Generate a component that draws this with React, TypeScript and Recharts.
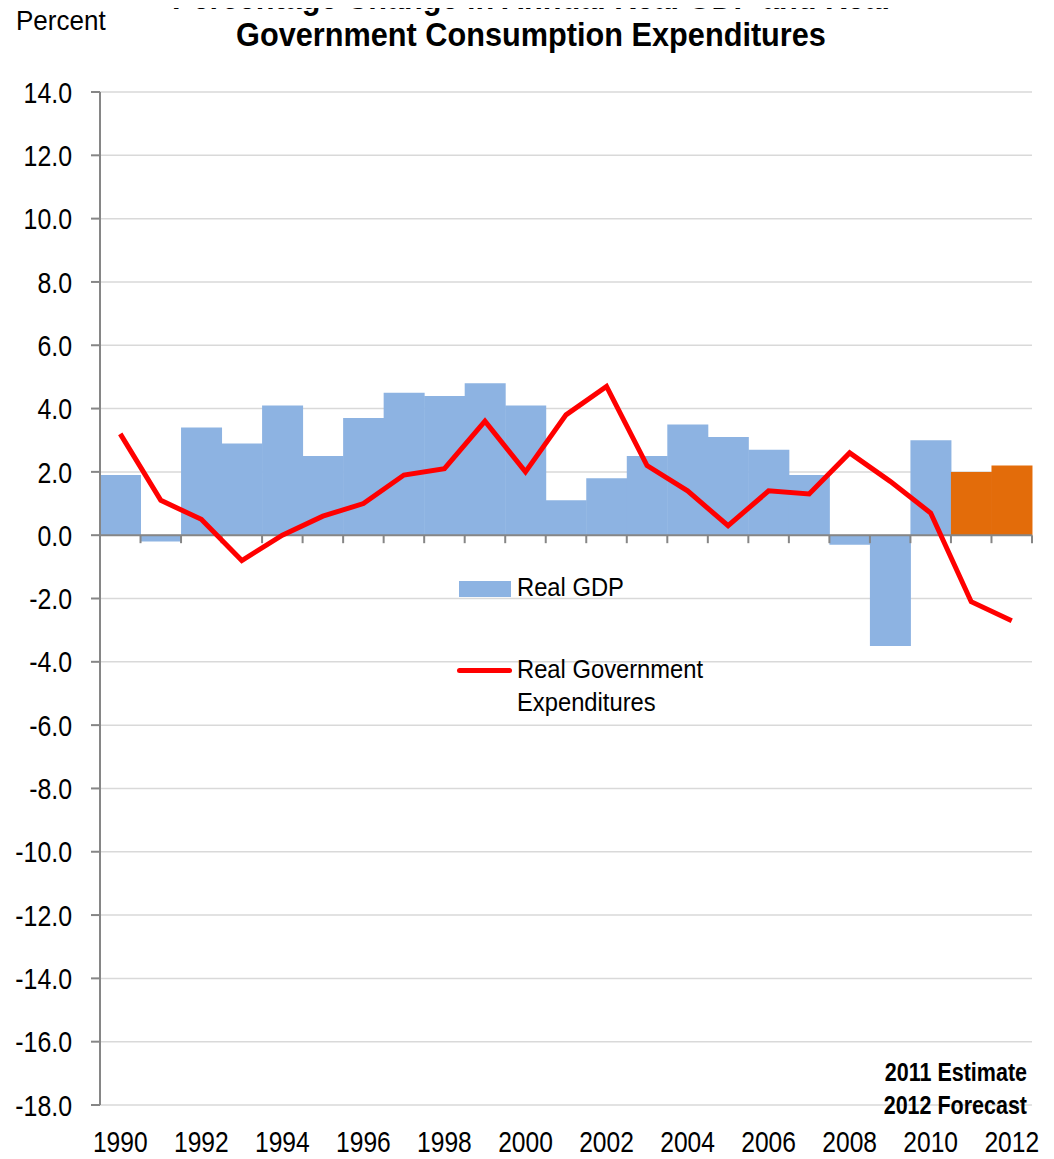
import React from "react";
import { ComposedChart, Bar, Line, XAxis, YAxis, CartesianGrid, ReferenceLine, Legend, Cell } from "recharts";

const years = [
  "1990", "1991", "1992", "1993", "1994", "1995", "1996", "1997", "1998", "1999", "2000", "2001",
  "2002", "2003", "2004", "2005", "2006", "2007", "2008", "2009", "2010", "2011", "2012",
];
const realGdp = [1.9, -0.2, 3.4, 2.9, 4.1, 2.5, 3.7, 4.5, 4.4, 4.8, 4.1, 1.1, 1.8, 2.5, 3.5, 3.1, 2.7, 1.9, -0.3, -3.5, 3.0, 2.0, 2.2];
const realGov = [3.2, 1.1, 0.5, -0.8, 0.0, 0.6, 1.0, 1.9, 2.1, 3.6, 2.0, 3.8, 4.7, 2.2, 1.4, 0.3, 1.4, 1.3, 2.6, 1.7, 0.7, -2.1, -2.7];
const yTicks = [-18, -16, -14, -12, -10, -8, -6, -4, -2, 0, 2, 4, 6, 8, 10, 12, 14];
const estimateFrom = "2011";

const data = years.map((year, i) => ({ year, gdp: realGdp[i], gov: realGov[i] }));

// no Arial Narrow here, so squeeze Liberation Sans horizontally
const FONT = '"Liberation Sans", Arial, sans-serif';
const BLUE = "#8db3e2";
const ORANGE = "#e36c0a";
const RED = "#ff0000";
const AXIS = "#868686";

function NarrowText(props: {
  x: number;
  y: number;
  size: number;
  sx: number;
  anchor?: "start" | "middle" | "end";
  bold?: boolean;
  dy?: string;
  children: React.ReactNode;
}) {
  const { x, y, size, sx, anchor = "start", bold, dy, children } = props;
  return (
    <text
      transform={`translate(${x},${y}) scale(${sx},1)`}
      textAnchor={anchor}
      dy={dy}
      fontFamily={FONT}
      fontWeight={bold ? "bold" : "normal"}
      fontSize={size}
      fill="#000"
    >
      {children}
    </text>
  );
}

function YTick(props: { x?: number; y?: number; payload?: { value: number } }) {
  const { x = 0, y = 0, payload } = props;
  return (
    <NarrowText x={x} y={y} size={30} sx={0.83} anchor="end" dy="0.355em">
      {payload ? payload.value.toFixed(1) : ""}
    </NarrowText>
  );
}

function XTick(props: { x?: number; y?: number; payload?: { value: string } }) {
  const { x = 0, y = 0, payload } = props;
  return (
    <NarrowText x={x} y={y} size={30} sx={0.82} anchor="middle" dy="0.71em">
      {payload ? payload.value : ""}
    </NarrowText>
  );
}

// zero line with category boundary ticks hanging below it
function ZeroAxis(props: { x1?: number; y1?: number; x2?: number; y2?: number }) {
  const { x1 = 0, y1 = 0, x2 = 0 } = props;
  const step = (x2 - x1) / years.length;
  const ticks = [];
  for (let i = 0; i <= years.length; i++) {
    const x = x1 + step * i;
    ticks.push(<line key={i} x1={x} x2={x} y1={y1} y2={y1 + 8} stroke={AXIS} strokeWidth={2} />);
  }
  return (
    <g>
      <line x1={x1} x2={x2} y1={y1} y2={y1} stroke={AXIS} strokeWidth={2} />
      {ticks}
    </g>
  );
}

function LegendBox() {
  const label: React.CSSProperties = {
    position: "absolute",
    left: 60,
    lineHeight: "33px",
    whiteSpace: "nowrap",
    transform: "scaleX(0.95)",
    transformOrigin: "left center",
  };
  return (
    <div style={{ position: "relative", width: 300, height: 150, fontFamily: FONT, fontSize: 25, color: "#000" }}>
      <div style={{ position: "absolute", left: 2, top: 11, width: 52, height: 16, background: BLUE }} />
      <div style={{ ...label, top: 1 }}>Real GDP</div>
      <div style={{ position: "absolute", left: 0, top: 98, width: 55, height: 5, background: RED, borderRadius: 3 }} />
      <div style={{ ...label, top: 83 }}>
        Real Government
        <br />
        Expenditures
      </div>
    </div>
  );
}

export default function App() {
  return (
    <div style={{ position: "relative", width: 1046, height: 1151 }}>
      <ComposedChart
        width={1046}
        height={1151}
        data={data}
        margin={{ top: 84, right: 22, left: 0, bottom: 0 }}
        barCategoryGap={0}
        barGap={0}
      >
        <CartesianGrid vertical={false} stroke="#d9d9d9" strokeWidth={1.5} />
        <XAxis
          dataKey="year"
          interval={1}
          axisLine={false}
          tickLine={false}
          tickSize={0}
          tickMargin={26}
          height={54}
          tick={<XTick />}
        />
        <YAxis
          domain={[-18, 14]}
          ticks={yTicks}
          width={92}
          axisLine={{ stroke: AXIS, strokeWidth: 2 }}
          tickLine={{ stroke: AXIS, strokeWidth: 2 }}
          tickSize={9}
          tickMargin={19}
          tick={<YTick />}
          allowDataOverflow
        />
        <Bar dataKey="gdp" name="Real GDP" isAnimationActive={false}>
          {data.map((d) => (
            <Cell key={d.year} fill={d.year >= estimateFrom ? ORANGE : BLUE} />
          ))}
        </Bar>
        <ReferenceLine y={0} shape={ZeroAxis} />
        <Line
          type="linear"
          dataKey="gov"
          name="Real Government Expenditures"
          stroke={RED}
          strokeWidth={5}
          dot={false}
          activeDot={false}
          isAnimationActive={false}
        />
        <Legend
          layout="vertical"
          align="center"
          verticalAlign="middle"
          content={() => <LegendBox />}
          wrapperStyle={{ left: 449, top: 562, width: 300, height: 150 }}
        />
      </ComposedChart>
      <svg
        width={1054}
        height={1159}
        style={{ position: "absolute", left: -8, top: -8, pointerEvents: "none" }}
      >
        <NarrowText x={531} y={9} size={33} sx={0.93} anchor="middle" bold>
          Percentage Change in Annual Real GDP and Real
        </NarrowText>
        <NarrowText x={531} y={46} size={33} sx={0.93} anchor="middle" bold>
          Government Consumption Expenditures
        </NarrowText>
        <NarrowText x={16} y={30} size={28} sx={0.93}>
          Percent
        </NarrowText>
        <NarrowText x={1027} y={1081} size={25} sx={0.86} anchor="end" bold>
          2011 Estimate
        </NarrowText>
        <NarrowText x={1027} y={1114} size={25} sx={0.86} anchor="end" bold>
          2012 Forecast
        </NarrowText>
      </svg>
    </div>
  );
}
